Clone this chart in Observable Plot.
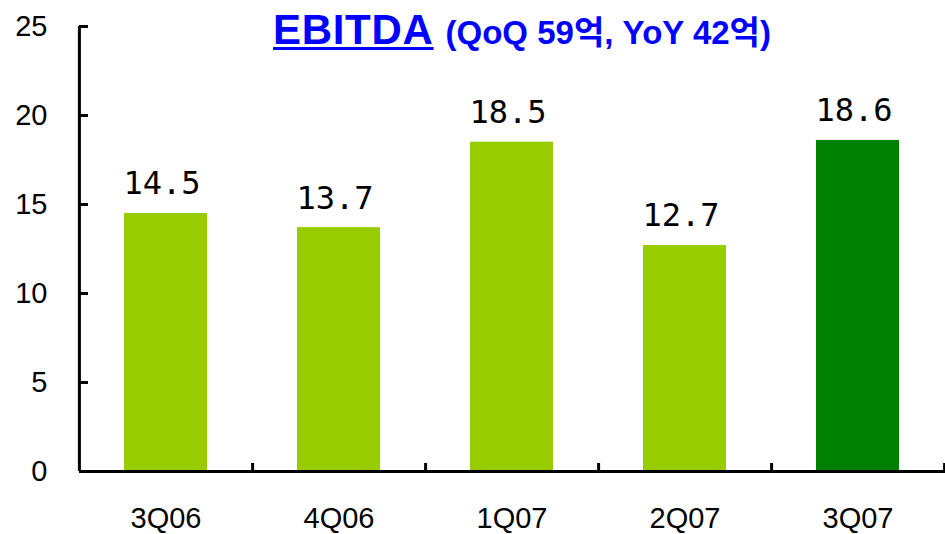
<!DOCTYPE html>
<html><head><meta charset="utf-8">
<script src="https://cdn.jsdelivr.net/npm/d3@7"></script>
<script src="https://cdn.jsdelivr.net/npm/@observablehq/plot@0.6"></script>
<style>
body{margin:0;background:#fff}
#wrap{position:relative;width:945px;height:534px}
#title{position:absolute;left:273px;top:9px;white-space:nowrap;color:#0000ff;font-family:"Liberation Sans","Noto Sans CJK KR",sans-serif;font-weight:bold;line-height:42px;z-index:2}
#title .main{font-size:42px;letter-spacing:0.7px;text-decoration:underline;text-decoration-thickness:3px;text-underline-offset:3px}
#title .sub{font-size:33px;margin-left:12px}
</style></head><body>
<div id="wrap"><div id="title"><span class="main">EBITDA</span><span class="sub">(QoQ 59억, YoY 42억)</span></div></div>
<script>
const quarters = ["3Q06", "4Q06", "1Q07", "2Q07", "3Q07"];
const ebitda = [14.5, 13.7, 18.5, 12.7, 18.6];
const period = ["past", "past", "past", "past", "current"];
const yTicks = [0, 5, 10, 15, 20, 25];

const data = quarters.map((q, i) => ({quarter: q, value: ebitda[i], period: period[i]}));

const W = 945, H = 534, mL = 79, mR = 0, mT = 26, mB = 63;
const step = (W - mL - mR) / quarters.length;
const plotW = W - mL - mR, plotH = H - mT - mB;

const chart = Plot.plot({
  width: W, height: H,
  marginLeft: mL, marginRight: mR, marginTop: mT, marginBottom: mB,
  style: {fontFamily: "'Liberation Sans', 'Noto Sans CJK KR', sans-serif", fontSize: "29px", color: "#000", background: "transparent"},
  x: {domain: quarters, paddingInner: 0.52, paddingOuter: 0.26, label: null},
  y: {domain: [0, 25], label: null},
  color: {domain: ["past", "current"], range: ["#99CC00", "#008000"]},
  marks: [
    Plot.barY(data, {x: "quarter", y: "value", fill: "period"}),
    Plot.ruleY([0], {stroke: "#000", strokeWidth: 3}),
    Plot.ruleX([quarters[0]], {x: d => d, dx: -step / 2, stroke: "#000", strokeWidth: 3}),
    Plot.tickY(yTicks, {y: d => d, insetRight: plotW - 9, stroke: "#000", strokeWidth: 3}),
    Plot.tickX(quarters, {x: d => d, dx: step / 2, insetTop: plotH - 8, stroke: "#000", strokeWidth: 3}),
    Plot.axisY({ticks: yTicks, tickSize: 0, tickPadding: 32, tickFormat: d => String(d), fill: "#000"}),
    Plot.axisX({tickSize: 0, tickPadding: 36, fill: "#000"}),
    Plot.text(data, {x: "quarter", y: "value", text: d => d.value.toFixed(1), lineAnchor: "bottom", dy: -19, dx: -4, fontFamily: "DejaVu Sans Mono", fontSize: 32, fill: "#000", style: "letter-spacing:1.5px"})
  ]
});
chart.querySelectorAll("text").forEach(t => {
  if (t.getAttribute("font-family") === "DejaVu Sans Mono") t.style.letterSpacing = "1.5px";
});
document.getElementById("wrap").appendChild(chart);
</script>
</body></html>
